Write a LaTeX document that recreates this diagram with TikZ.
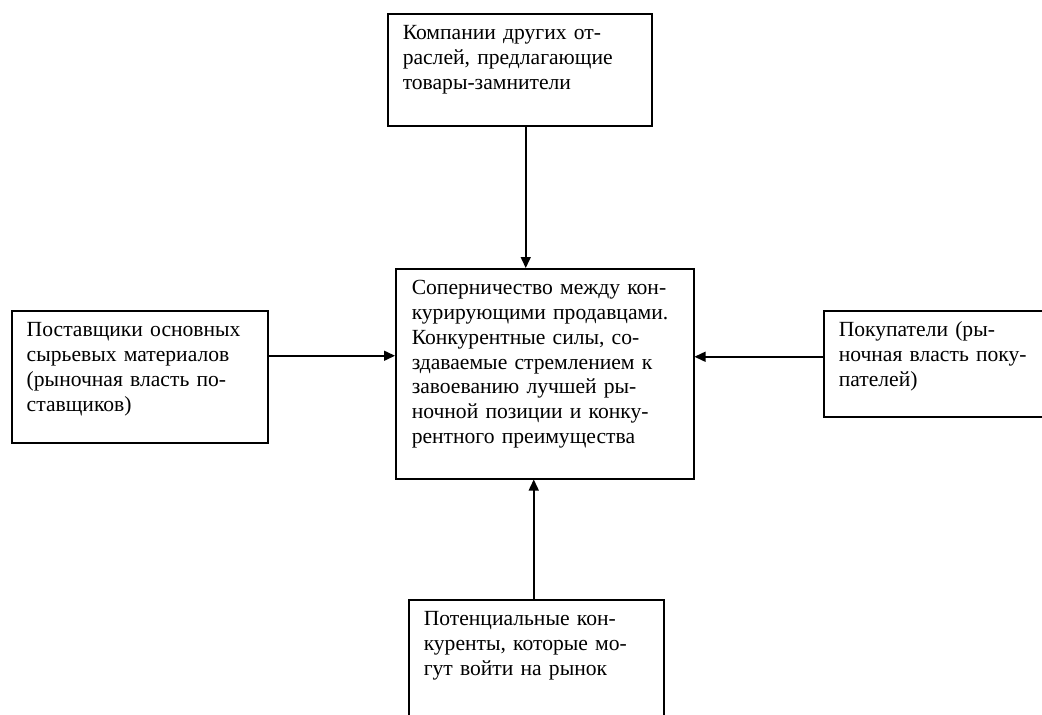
\documentclass[tikz,border=0pt]{standalone}
\usepackage{fontspec}
\setmainfont{Liberation Serif}
\usetikzlibrary{arrows.meta}

\begin{document}
\begin{tikzpicture}[x=1pt,y=-1pt,
  box/.style 2 args={draw,line width=1.5pt,anchor=north west,align=left,
    inner xsep=15pt,inner ysep=6pt,text height=20pt,text width=#1,text depth=#2,
    font=\fontsize{21.6}{24.8}\selectfont},
  arr/.style={line width=1.5pt,-{Triangle[length=11pt,width=10pt]}}]
\useasboundingbox (0,0) rectangle (1042,715);
\clip (0,0) rectangle (1042,715);
\node[box={234pt}{80pt}] (subst) at (387,13)
  {Компании других от-\\раслей, предлагающие\\товары-замнители};
\node[box={268pt}{178pt}] (rival) at (395,268)
  {\hspace{1pt}Соперничество между кон-\\\hspace{1pt}курирующими продавцами.\\\hspace{1pt}Конкурентные силы, со-\\\hspace{1pt}здаваемые стремлением к\\\hspace{1pt}завоеванию лучшей ры-\\\hspace{1pt}ночной позиции и конку-\\\hspace{1pt}рентного преимущества};
\node[box={226pt}{100pt}] (supplier) at (11,310)
  {Поставщики основных\\сырьевых материалов\\(рыночная власть по-\\ставщиков)};
\node[box={210pt}{74pt}] (buyer) at (823,310)
  {Покупатели (ры-\\ночная власть поку-\\пателей)};
\node[box={225pt}{118pt}] (entrant) at (408,599)
  {Потенциальные кон-\\куренты, которые мо-\\гут войти на рынок};
% arrows into the centre box
\draw[arr] ([xshift=6pt]subst.south) -- ([xshift=6pt]subst.south |- rival.north);
\draw[arr] ([xshift=-2.5pt]entrant.north) -- ([xshift=-2.5pt]entrant.north |- rival.south);
\draw[arr] ([yshift=21pt]supplier.east) -- ([yshift=21pt]supplier.east -| rival.west);
\draw[arr] ([yshift=7pt]buyer.west) -- ([yshift=7pt]buyer.west -| rival.east);
\end{tikzpicture}
\end{document}
